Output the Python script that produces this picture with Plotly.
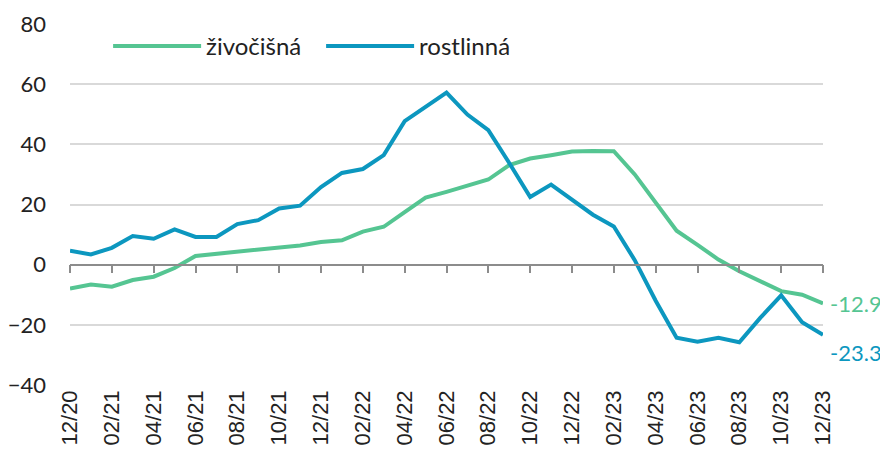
import plotly.graph_objects as go

months = (["12/20"] + [f"{m:02d}/21" for m in range(1, 13)]
          + [f"{m:02d}/22" for m in range(1, 13)]
          + [f"{m:02d}/23" for m in range(1, 13)])

zivocisna = [-7.9, -6.6, -7.3, -5.1, -4.0, -1.1, 2.9, 3.6, 4.3, 4.8, 5.4, 6.4, 7.5,
             8.1, 11.0, 12.6, 17.5, 22.3, 24.2, 26.4, 28.3, 33.1, 35.3, 36.4, 37.6,
             37.8, 37.7, 30.0, 20.4, 11.3, 6.6, 1.7, -2.2, -5.5, -8.8, -10.0, -12.9]

rostlinna = [4.6, 3.4, 5.6, 9.5, 8.6, 11.7, 9.2, 9.2, 13.5, 14.8, 18.7, 19.6, 25.8,
             30.5, 31.8, 36.4, 47.7, 52.4, 57.2, 49.9, 44.7, 33.8, 22.5, 26.6, 21.7,
             16.6, 12.7, 1.5, -12.0, -24.3, -25.6, -24.3, -25.8, -17.7, -10.2, -19.1, -23.3]

tick_labels = months[::2]
y_ticks = [-40, -20, 0, 20, 40, 60, 80]

GREEN = "#55C592"
BLUE = "#0C97BF"

fig = go.Figure()
fig.add_trace(go.Scatter(x=months, y=zivocisna, name="živočišná", mode="lines",
                         line=dict(color=GREEN, width=4)))
fig.add_trace(go.Scatter(x=months, y=rostlinna, name="rostlinná", mode="lines",
                         line=dict(color=BLUE, width=4)))
# invisible helper trace to carry the zero axis with ticks
fig.add_trace(go.Scatter(x=months, y=rostlinna, xaxis="x2", mode="lines",
                         line=dict(width=0), opacity=0, showlegend=False,
                         hoverinfo="skip"))

fig.add_annotation(x=months[-1], y=zivocisna[-1], text=f"{zivocisna[-1]:.1f}",
                   showarrow=False, xanchor="left", xshift=5,
                   font=dict(family="Lato", size=22, color=GREEN))
fig.add_annotation(x=months[-1], y=rostlinna[-1], text=f"{rostlinna[-1]:.1f}",
                   showarrow=False, xanchor="left", xshift=5, yshift=-18,
                   font=dict(family="Lato", size=22, color=BLUE))

fig.update_layout(
    width=880, height=452,
    margin=dict(l=62, r=65, t=16, b=75, autoexpand=False),
    paper_bgcolor="white", plot_bgcolor="white",
    showlegend=True,
    legend=dict(orientation="h", x=0.0506, y=1.0, xanchor="left", yanchor="top",
                font=dict(family="Lato", size=24, color="#222222"),
                bgcolor="rgba(0,0,0,0)", itemwidth=88, tracegroupgap=0,
                entrywidth=110, entrywidthmode="pixels"),
    xaxis=dict(type="category", range=[0, len(months) - 1], automargin=False,
               tickmode="array", tickvals=tick_labels, ticktext=tick_labels,
               tickangle=-90, showgrid=False, showline=False, ticks="",
               zeroline=False,
               tickfont=dict(family="Liberation Sans", size=22, color="#222222")),
    xaxis2=dict(type="category", overlaying="x", matches="x", anchor="free",
                position=40 / 120, range=[0, len(months) - 1], automargin=False,
                tickmode="array", tickvals=tick_labels, showticklabels=False,
                ticks="outside", ticklen=8, tickcolor="#8C8C8C", tickwidth=1.5,
                showline=True, linecolor="#8C8C8C", linewidth=1.5,
                showgrid=False, zeroline=False),
    yaxis=dict(range=[-40, 80], tickvals=y_ticks, showgrid=True, automargin=False,
               gridcolor="#D9D9D9", gridwidth=1.5, zeroline=False,
               showline=False, ticks="", ticklabelstandoff=23,
               tickfont=dict(family="Lato", size=22, color="#222222")),
)

fig.write_html("out.html")
